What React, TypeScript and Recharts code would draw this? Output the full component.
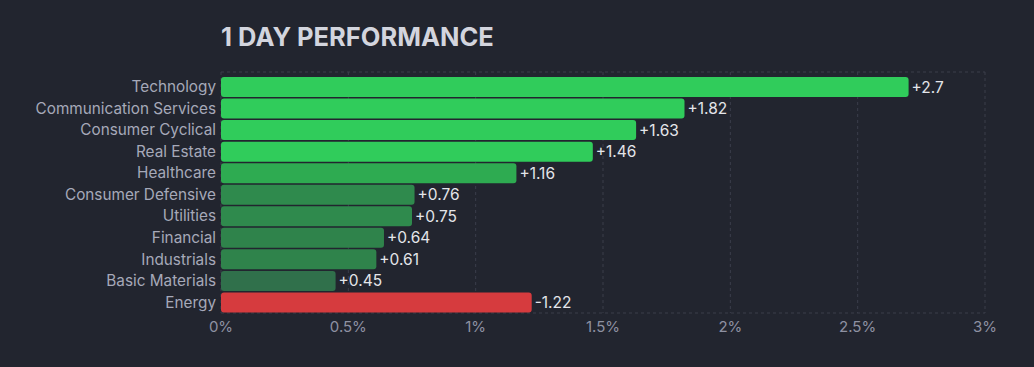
import { BarChart, Bar, XAxis, YAxis, CartesianGrid, Cell, LabelList } from "recharts";

const sectors = [
  "Technology",
  "Communication Services",
  "Consumer Cyclical",
  "Real Estate",
  "Healthcare",
  "Consumer Defensive",
  "Utilities",
  "Financial",
  "Industrials",
  "Basic Materials",
  "Energy",
];
const changes = [2.7, 1.82, 1.63, 1.46, 1.16, 0.76, 0.75, 0.64, 0.61, 0.45, -1.22];
const xTicks = [0, 0.5, 1, 1.5, 2, 2.5, 3];

const data = sectors.map((name, i) => ({
  name,
  change: changes[i],
  size: Math.abs(changes[i]),
}));

// shade follows the move size, red for losers
function barColor(v: number) {
  if (v < 0) return "#d63b3e";
  if (v >= 1.4) return "#30cc5b";
  if (v >= 1) return "#2eab51";
  if (v >= 0.7) return "#2f8a4d";
  if (v >= 0.6) return "#2f834b";
  return "#30704b";
}

const BG = "#22252f";
const FONT = "Inter, 'Noto Sans', sans-serif";

export default function App() {
  return (
    <div
      style={{
        position: "fixed",
        top: 0,
        left: 0,
        width: 1034,
        height: 367,
        background: BG,
        fontFamily: FONT,
      }}
    >
      <div
        style={{
          position: "absolute",
          left: 221,
          top: 21,
          fontSize: 25.5,
          fontWeight: 700,
          color: "#d3d5de",
        }}
      >
        1 DAY PERFORMANCE
      </div>
      <div style={{ position: "absolute", top: 0, left: 0 }}>
        <BarChart
          width={1034}
          height={367}
          data={data}
          layout="vertical"
          margin={{ top: 72, right: 49, bottom: 24, left: 0 }}
          barCategoryGap={1}
        >
          <CartesianGrid
            stroke="#3b3e4b"
            strokeDasharray="3 3"
            horizontalCoordinatesGenerator={({ offset }: any) => [
              offset.top,
              offset.top + offset.height,
            ]}
          />
          <XAxis
            type="number"
            domain={[0, 3]}
            ticks={xTicks}
            tickFormatter={(v: number) => `${v}%`}
            axisLine={false}
            tickLine={false}
            height={30}
            tick={{ fill: "#8e91a2", fontSize: 15, fontFamily: FONT }}
          />
          <YAxis
            type="category"
            dataKey="name"
            width={221}
            axisLine={false}
            tickLine={false}
            tickSize={0}
            tickMargin={5}
            interval={0}
            padding={{ top: 4, bottom: 0 }}
            tick={{ fill: "#a6a9b9", fontSize: 15.3, fontFamily: FONT }}
          />
          <Bar dataKey="size" radius={3} isAnimationActive={false}>
            {data.map((d) => (
              <Cell key={d.name} fill={barColor(d.change)} />
            ))}
            <LabelList
              dataKey="change"
              position="right"
              offset={3}
              formatter={(v: any) => (v > 0 ? `+${v}` : `${v}`)}
              fill="#e4e5ea"
              fontSize={15.5}
              fontFamily={FONT}
            />
          </Bar>
        </BarChart>
      </div>
    </div>
  );
}
